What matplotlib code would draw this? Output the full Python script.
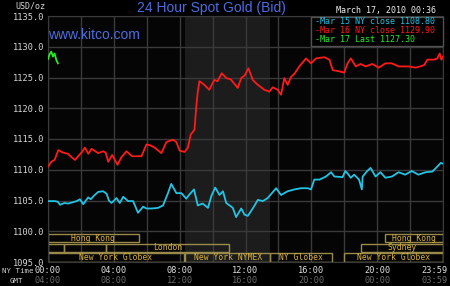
import matplotlib
matplotlib.use('Agg')
import matplotlib.pyplot as plt
from matplotlib.patches import Rectangle

# Mar 16 (red) - hours after 00:00 NY time, price
red_t = [0.0, 0.2, 0.4, 0.63, 0.9, 1.2, 1.45, 1.64, 1.9, 2.1, 2.24, 2.45, 2.65, 3.05, 3.35, 3.5,
         3.66, 3.9, 4.22, 4.45, 4.77, 5.1, 5.68, 5.98, 6.2, 6.48, 6.89, 7.19, 7.6, 7.8, 8.0, 8.3,
         8.5, 8.67, 8.9, 9.0, 9.1, 9.2, 9.5, 9.8, 10.1, 10.3, 10.56, 10.83, 11.1, 11.53, 11.74,
         11.94, 12.18, 12.44, 12.75, 13.15, 13.45, 13.65, 13.96, 14.16, 14.36, 14.56, 14.77,
         14.97, 15.27, 15.68, 15.98, 16.28, 16.79, 17.1, 17.3, 17.7, 18.0, 18.2, 18.4, 18.7,
         19.0, 19.3, 19.7, 20.1, 20.5, 20.9, 21.3, 21.9, 22.35, 22.85, 23.05, 23.45, 23.65,
         23.8, 23.9, 24.0]
red_v = [1110.5, 1111.3, 1111.6, 1113.2, 1112.8, 1112.6, 1112.0, 1111.6, 1112.4, 1113.0, 1113.6,
         1112.6, 1113.4, 1112.7, 1113.0, 1112.8, 1111.3, 1112.4, 1110.8, 1112.0, 1113.0, 1112.2,
         1112.2, 1114.1, 1114.0, 1113.6, 1112.7, 1114.5, 1114.9, 1114.5, 1113.1, 1112.9, 1113.6,
         1115.7, 1116.5, 1120.0, 1122.7, 1124.4, 1123.8, 1123.0, 1124.6, 1124.4, 1125.7, 1124.9,
         1124.7, 1123.3, 1124.9, 1125.3, 1126.5, 1124.6, 1123.8, 1123.0, 1122.7, 1123.4, 1123.0,
         1122.2, 1124.9, 1123.8, 1125.1, 1125.6, 1126.8, 1128.1, 1127.3, 1128.1, 1128.3, 1127.9,
         1126.2, 1126.0, 1125.8, 1127.3, 1128.1, 1126.8, 1127.2, 1126.8, 1127.2, 1126.6, 1127.3,
         1127.3, 1126.8, 1126.8, 1126.6, 1127.0, 1127.9, 1127.9, 1128.1, 1128.9, 1127.9, 1128.4]

# Mar 15 (cyan)
cyan_t = [0.0, 0.42, 0.6, 0.73, 1.0, 1.23, 1.74, 1.94, 2.14, 2.44, 2.6, 2.8, 3.05, 3.35, 3.56,
          3.7, 3.86, 4.16, 4.36, 4.57, 4.87, 5.17, 5.47, 5.78, 5.98, 6.3, 6.69, 6.99, 7.29, 7.49,
          7.8, 8.1, 8.4, 8.6, 8.87, 9.1, 9.4, 9.72, 9.92, 10.16, 10.42, 10.63, 10.83, 11.23,
          11.43, 11.74, 11.94, 12.14, 12.44, 12.75, 13.05, 13.35, 13.86, 14.16, 14.56, 14.97,
          15.37, 15.78, 15.98, 16.18, 16.5, 16.89, 17.2, 17.4, 17.9, 18.06, 18.2, 18.4, 18.6,
          18.9, 19.07, 19.12, 19.4, 19.6, 19.9, 20.2, 20.5, 20.9, 21.3, 21.7, 22.1, 22.5, 22.95,
          23.35, 23.65, 23.86, 24.0]
cyan_v = [1104.9, 1104.9, 1104.8, 1104.3, 1104.6, 1104.5, 1104.9, 1105.2, 1104.4, 1105.5, 1105.2,
          1105.8, 1106.4, 1106.5, 1106.1, 1105.0, 1104.6, 1105.4, 1104.6, 1105.6, 1104.9, 1104.9,
          1103.0, 1104.0, 1103.7, 1103.7, 1103.8, 1104.2, 1106.2, 1107.7, 1106.2, 1106.2, 1105.3,
          1106.0, 1106.8, 1104.2, 1104.5, 1103.8, 1105.7, 1107.1, 1105.9, 1106.5, 1104.6, 1103.8,
          1102.3, 1103.7, 1102.7, 1102.5, 1103.7, 1105.1, 1104.9, 1105.4, 1107.0, 1105.9, 1106.5,
          1106.8, 1107.0, 1107.0, 1106.8, 1108.4, 1108.4, 1108.9, 1109.6, 1108.9, 1108.8, 1109.8,
          1109.4, 1108.7, 1109.2, 1108.4, 1106.8, 1108.9, 1109.8, 1110.3, 1108.9, 1109.6, 1108.7,
          1108.9, 1109.6, 1109.2, 1109.8, 1109.2, 1109.6, 1109.7, 1110.5, 1111.1, 1111.0]

# Mar 17 (green), only up to 00:36
green_t = [0.0, 0.1, 0.2, 0.3, 0.4, 0.5, 0.6]
green_v = [1128.0, 1128.8, 1129.2, 1128.4, 1128.9, 1127.9, 1127.3]

legend_labels = ['Mar 15 NY close 1108.80', 'Mar 16 NY close 1129.90', 'Mar 17 Last 1127.30']

ny_labels = ['00:00', '04:00', '08:00', '12:00', '16:00', '20:00', '23:59']
gmt_labels = ['04:00', '08:00', '12:00', '16:00', '20:00', '00:00', '03:59']
label_hours = [0, 4, 8, 12, 16, 20, 24]

# trading sessions: name, start hour, end hour, row (0 = top)
sess_names = ['Hong Kong', '', '', 'London', 'New York Globex', 'New York NYMEX', 'NY Globex',
              'New York Globex', 'Sydney', 'Hong Kong']
sess_start = [0, 0, 1, 3.5, 0, 8.33, 13.5, 18, 19, 20.5]
sess_end = [5.5, 1, 3.5, 11, 8.25, 13.5, 17.25, 24, 24, 24]
sess_row = [0, 1, 1, 1, 2, 2, 2, 2, 1, 0]

mono = 'DejaVu Sans Mono'
grid_c = '#3a3a3a'
gold = '#d9b23a'

fig = plt.figure(figsize=(4.5, 2.86), dpi=100, facecolor='black')
ax = fig.add_axes([48 / 450, 24 / 286, 395 / 450, 246 / 286])
ax.set_facecolor('#050505')
ax.set_xlim(0, 24)
ax.set_ylim(1095, 1135)

# NYMEX session shading
ax.axvspan(8 + 20 / 60, 13.5, color='#1c1c1c', zorder=0, lw=0)

ax.set_xticks(range(0, 25, 2))
ax.set_yticks(range(1095, 1136, 5))
ax.grid(True, color=grid_c, lw=1.0, zorder=0.5)
ax.tick_params(length=0, labelbottom=False, labelleft=True, pad=2.5,
               labelsize=6.2, labelcolor='#d8d8d8')
ax.set_yticklabels(['%.1f' % v for v in range(1095, 1136, 5)], family=mono)
for s in ax.spines.values():
    s.set_color(grid_c)

ax.plot(cyan_t, cyan_v, color='#22c4e4', lw=1.3, zorder=3)
ax.plot(red_t, red_v, color='#ff1a1a', lw=1.3, zorder=3)
ax.plot(green_t, green_v, color='#22ee22', lw=1.3, zorder=3)

# session boxes
row_top = [1099.6, 1098.0, 1096.4]
row_h = 1.4
for name, s0, s1, r in zip(sess_names, sess_start, sess_end, sess_row):
    ax.add_patch(Rectangle((s0, row_top[r] - row_h), s1 - s0, row_h, fill=False,
                           edgecolor='#9a8a4a', lw=1.0, zorder=2))
    if name:
        ax.text((s0 + s1) / 2, row_top[r] - row_h / 2, name, ha='center', va='center',
                family=mono, fontsize=5.8, color=gold, zorder=4)

# x labels: NY time and GMT rows
for h, ny, gmt in zip(label_hours, ny_labels, gmt_labels):
    xx = min(h, 23.5)
    ax.text(xx, -0.035, ny, transform=ax.get_xaxis_transform(), ha='center', va='center',
            family=mono, fontsize=6.2, color='#e0e0e0')
    ax.text(xx, -0.075, gmt, transform=ax.get_xaxis_transform(), ha='center', va='center',
            family=mono, fontsize=6.2, color='#6a6a6a')
fig.text(2 / 450, 1 - 271 / 286, 'NY Time', ha='left', va='center', family=mono,
         fontsize=5.3, color='#d0d0d0')
fig.text(10 / 450, 1 - 281 / 286, 'GMT', ha='left', va='center', family=mono,
         fontsize=5.3, color='#d0d0d0')

# titles
fig.text(211 / 450, 1 - 8 / 286, '24 Hour Spot Gold (Bid)', ha='center', va='center',
         family='Liberation Sans', fontsize=10, color='#4a6ee0')
fig.text(48 / 450, 1 - 35 / 286, 'www.kitco.com', ha='left', va='center',
         family='Liberation Sans', fontsize=10, color='#4a6ee0')
fig.text(15 / 450, 1 - 6 / 286, 'USD/oz', ha='left', va='center', family=mono,
         fontsize=6, color='#d8d8d8')
fig.text(436 / 450, 1 - 11 / 286, 'March 17, 2010 00:36', ha='right', va='center',
         family=mono, fontsize=6, color='#f0f0f0')

# legend box
fig.add_artist(Rectangle((311 / 450, 1 - 46 / 286), 132 / 450, 29 / 286,
                         transform=fig.transFigure, facecolor='black',
                         edgecolor='#505050', lw=1.0, zorder=5))
leg_colors = ['#22c4e4', '#ff1a1a', '#22ee22']
for i, (lab, c) in enumerate(zip(legend_labels, leg_colors)):
    fig.text(315 / 450, 1 - (22 + 9 * i) / 286, '-' + lab, ha='left', va='center',
             family=mono, fontsize=6, color=c, zorder=6)

fig.savefig('out.png', dpi=100, facecolor='black')
